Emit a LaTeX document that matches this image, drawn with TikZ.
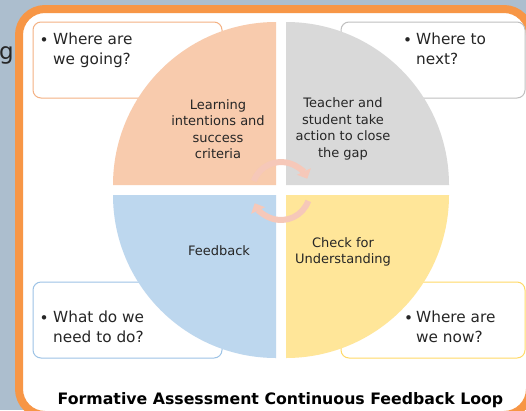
\documentclass[tikz,border=0pt]{standalone}
\usepackage{fontspec}
\setmainfont{DejaVu Sans}
\usetikzlibrary{arrows.meta}
\definecolor{bgc}{RGB}{172,190,206}
\definecolor{frameorange}{RGB}{247,150,70}
\definecolor{qorange}{RGB}{248,203,173}
\definecolor{qgray}{RGB}{217,217,217}
\definecolor{qblue}{RGB}{189,215,238}
\definecolor{qyellow}{RGB}{255,230,153}
\definecolor{borange}{RGB}{244,177,131}
\definecolor{bgray}{RGB}{191,191,191}
\definecolor{bblue}{RGB}{157,195,230}
\definecolor{byellow}{RGB}{255,217,102}
\definecolor{txt}{RGB}{38,38,38}
\definecolor{arrowpink}{RGB}{246,200,185}
\tikzset{
  ibox/.style={draw, fill=white, line width=1pt, rounded corners=8pt, inner sep=0pt},
  btext/.style={anchor=base west, inner sep=0pt, align=left, text=txt, font=\fontsize{15.3}{19.5}\selectfont},
  bul/.style={anchor=base west, inner sep=0pt, text=txt, font=\fontsize{15.3}{19.5}\selectfont},
  qtext/.style={inner sep=0pt, align=center, text=txt, font=\fontsize{13}{16.4}\selectfont},
  cyc/.style={draw=arrowpink, line width=6pt, -{Triangle[width=15pt,length=8pt]}}
}
\begin{document}
\begin{tikzpicture}[x=1pt,y=-1pt]
\useasboundingbox (0,0) rectangle (526,410);
\clip (0,0) rectangle (526,410);
\fill[bgc] (0,0) rectangle (526,410);
\node[anchor=base west, inner sep=0pt, text=txt, font=\fontsize{23}{27}\selectfont] (gword) at (-1,59) {g};
\draw[frameorange, line width=8pt, fill=white, rounded corners=26pt] (19,9) rectangle (530,415);
% question boxes
\node[ibox, draw=borange, minimum width=189pt, minimum height=76pt] (boxtl) at (127.5,60) {};
\node[ibox, draw=bgray, minimum width=184pt, minimum height=76pt] (boxtr) at (433,60) {};
\node[ibox, draw=bblue, minimum width=189pt, minimum height=76pt] (boxbl) at (127.5,320) {};
\node[ibox, draw=byellow, minimum width=184pt, minimum height=76pt] (boxbr) at (433,320) {};
% quadrants
\fill[qorange] (276,185) -- (113,185) arc[start angle=180, end angle=270, radius=163] -- cycle;
\fill[qgray] (286,185) -- (286,22) arc[start angle=270, end angle=360, radius=163] -- cycle;
\fill[qblue] (276,195) -- (276,358) arc[start angle=90, end angle=180, radius=163] -- cycle;
\fill[qyellow] (286,195) -- (449,195) arc[start angle=0, end angle=90, radius=163] -- cycle;
% cycle arrows
\draw[cyc] ([shift={(200:29)}]281,191) arc[start angle=200, end angle=335, radius=29];
\draw[cyc] ([shift={(20:29)}]281,191) arc[start angle=20, end angle=155, radius=29];
% box texts (base anchor = last line)
\node[bul] (b1) at (39.5,45) {•};
\node[btext] (t1) at (53,64) {Where are\\we going?};
\node[bul] (b2) at (403,45) {•};
\node[btext] (t2) at (416,64) {Where to\\next?};
\node[bul] (b3) at (39.5,323) {•};
\node[btext] (t3) at (53,342) {What do we\\need to do?};
\node[bul] (b4) at (404,323) {•};
\node[btext] (t4) at (416,342) {Where are\\we now?};
% quadrant texts
\node[qtext] (q1) at (218,129) {Learning\\intentions and\\success\\criteria};
\node[qtext] (q2) at (343,129) {Teacher and\\student take\\action to close\\the gap};
\node[qtext] (q3) at (219,251) {Feedback};
\node[qtext] (q4) at (343,252) {Check for\\Understanding};
% title
\node[anchor=base, inner sep=0pt, text=black, font=\fontsize{15.75}{19}\selectfont\bfseries] (title) at (280.5,404) {Formative Assessment Continuous Feedback Loop};
\end{tikzpicture}
\end{document}
